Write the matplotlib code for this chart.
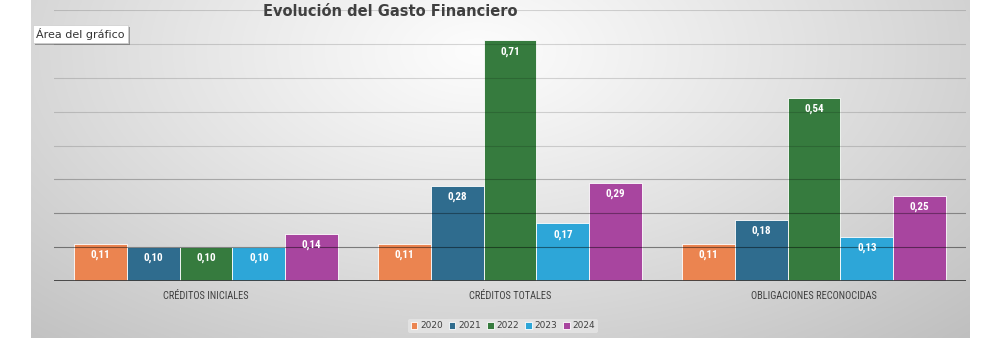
import numpy as np
import matplotlib
matplotlib.use("Agg")
import matplotlib.pyplot as plt
from matplotlib import font_manager
import matplotlib.patheffects as pe

categories = ["CRÉDITOS INICIALES", "CRÉDITOS TOTALES", "OBLIGACIONES RECONOCIDAS"]
years = ["2020", "2021", "2022", "2023", "2024"]
v2020 = [0.11, 0.11, 0.11]
v2021 = [0.10, 0.28, 0.18]
v2022 = [0.10, 0.71, 0.54]
v2023 = [0.10, 0.17, 0.13]
v2024 = [0.14, 0.29, 0.25]
series = [v2020, v2021, v2022, v2023, v2024]
colors = ["#EB8450", "#2F6C8E", "#367B3E", "#2DA6D8", "#A8459F"]


def pick(fams):
    for f in fams:
        try:
            font_manager.findfont(f, fallback_to_default=False)
            return f
        except Exception:
            continue
    return "DejaVu Sans"


narrow = pick(["Liberation Sans Narrow", "Roboto Condensed", "Open Sans Condensed", "Liberation Sans"])

W, H = 1000, 360
fig = plt.figure(figsize=(10, 3.6), dpi=100)
fig.patch.set_facecolor("white")

# background gradient panel
bg = fig.add_axes([31 / W, 1 - 338 / H, 939 / W, 338 / H])
bg.set_axis_off()
yy, xx = np.mgrid[0:200, 0:400]
cx, cy = 190, 30
d = np.sqrt(((xx - cx) / 330.0) ** 2 + ((yy - cy) / 260.0) ** 2)
d = np.clip(d / d.max(), 0, 1)
shade = 0.99 - 0.24 * d ** 1.1
img = np.dstack([shade, shade, shade])
bg.imshow(img, aspect="auto", extent=[0, 1, 0, 1], interpolation="bilinear")
bg.set_xlim(0, 1)
bg.set_ylim(0, 1)

# main axes
ax = fig.add_axes([54 / W, 1 - 281 / H, 912 / W, 271 / H])
ax.patch.set_alpha(0)
ax.set_ylim(0, 0.8)
ax.set_xlim(-0.5, 2.5)
for s in ax.spines.values():
    s.set_visible(False)
ax.set_yticks([])
ax.tick_params(axis="x", length=0, pad=7)

gl = np.arange(0.1, 0.81, 0.1)
for k, g in enumerate(gl):
    a = 0.45 - 0.30 * min(1.0, k / 3.0)
    ax.axhline(g, color="black", alpha=a, linewidth=0.8, zorder=3)

x = np.arange(len(categories))
bw = 0.174
for i, (vals, col) in enumerate(zip(series, colors)):
    pos = x + (i - 2) * bw
    bars = ax.bar(pos, vals, width=bw, color=col, edgecolor="white", linewidth=0.6,
                  label=years[i], zorder=2)
    for b, v in zip(bars, vals):
        ax.annotate(f"{v:.2f}".replace(".", ","), (b.get_x() + b.get_width() / 2, v),
                    xytext=(0, -11), textcoords="offset pixels",
                    ha="center", va="center", color="white", fontsize=8, fontweight="bold",
                    family=[narrow, "DejaVu Sans"], zorder=5)

ax.axhline(0, color="#3d3d3d", linewidth=2, zorder=6)
ax.set_xticks(x)
ax.set_xticklabels(categories, fontsize=7.5, color="#404040", family=[narrow, "DejaVu Sans"])

fig.text(390 / W, 1 - 12 / H, "Evolución del Gasto Financiero", ha="center", va="center",
         fontsize=10.5, fontweight="bold", color="#404040")

t = fig.text(36 / W, 1 - 34 / H, "Área del gráfico", ha="left", va="center", fontsize=8,
             color="#333333",
             bbox=dict(boxstyle="square,pad=0.3", facecolor="white", edgecolor="#cccccc", linewidth=0.5))
t.get_bbox_patch().set_path_effects([pe.SimplePatchShadow(offset=(1.5, -1.5), alpha=0.5), pe.Normal()])

leg = fig.legend(*ax.get_legend_handles_labels(), loc="center", bbox_to_anchor=(503 / W, 1 - 326 / H),
                 ncol=5, fontsize=6.5, frameon=True, handlelength=0.7, handleheight=0.7,
                 handletextpad=0.3, columnspacing=0.7, borderpad=0.3)
leg.get_frame().set_facecolor("#ececec")
leg.get_frame().set_alpha(0.6)
leg.get_frame().set_edgecolor("none")
for tt in leg.get_texts():
    tt.set_color("#404040")

fig.savefig("out.png", dpi=100)
